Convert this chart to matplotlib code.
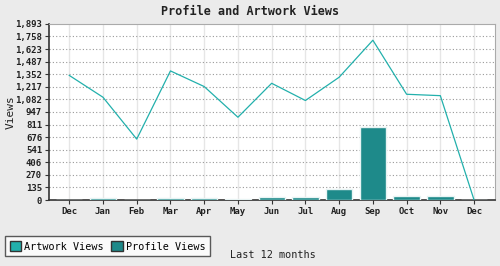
import matplotlib
matplotlib.use('Agg')
import matplotlib.pyplot as plt
from matplotlib.patches import Patch
import numpy as np

months = ['Dec', 'Jan', 'Feb', 'Mar', 'Apr', 'May', 'Jun', 'Jul', 'Aug', 'Sep', 'Oct', 'Nov', 'Dec']
artwork_views = [1340, 1105, 655, 1388, 1220, 890, 1255, 1070, 1320, 1718, 1137, 1122, 0]
profile_views = [0, 25, 0, 25, 25, 12, 36, 36, 122, 785, 46, 46, 0]
y_max = 1893
y_ticks = [int(y_max * k / 14 + 0.5) for k in range(15)]

line_col = '#22b0ac'
bar_col = '#1e8a8a'

plt.rcParams['font.family'] = ['DejaVu Sans Mono']

fig = plt.figure(figsize=(5, 2.66), dpi=100, facecolor='#ebebeb')
ax = fig.add_axes([0.098, 0.248, 0.892, 0.662])
ax.set_facecolor('white')

x = np.arange(len(months))
ax.bar(x, profile_views, width=0.78, color=bar_col, edgecolor='#e8f4f4', linewidth=1, zorder=3)
ax.plot(x, artwork_views, color=line_col, linewidth=0.9, zorder=4)

ax.set_xlim(-0.6, len(months) - 1 + 0.62)
ax.set_ylim(0, y_max)
ax.set_xticks(x)
ax.set_xticklabels(months, fontsize=6.5)
ax.set_yticks(y_ticks)
ax.set_yticklabels(['{:,}'.format(v) for v in y_ticks], fontsize=6.5)
ax.tick_params(axis='both', direction='out', length=3, width=0.8, color='#333333', pad=2)
for lab in ax.get_xticklabels() + ax.get_yticklabels():
    lab.set_fontweight('bold')
    lab.set_color('#222222')

# grid
for v in y_ticks[1:-1]:
    ax.axhline(v, color='#999999', linestyle=(0, (1, 2)), linewidth=0.8, zorder=1)
for xi in x:
    ax.axvline(xi, color='#e6e6e6', linewidth=1, zorder=0)

for s in ['top', 'right']:
    ax.spines[s].set_color('#aaaaaa')
for s in ['left', 'bottom']:
    ax.spines[s].set_color('#333333')
    ax.spines[s].set_linewidth(1.2)

fig.text(0.5, 0.955, 'Profile and Artwork Views', ha='center', va='center',
         fontsize=8.5, fontweight='bold', color='#222222')
fig.text(0.022, 0.58, 'Views', rotation=90, ha='center', va='center', fontsize=8, color='#222222')
fig.text(0.46, 0.04, 'Last 12 months', ha='left', va='center', fontsize=7.3, color='#222222')

handles = [Patch(facecolor=line_col, edgecolor='#333333', label='Artwork Views'),
           Patch(facecolor=bar_col, edgecolor='#333333', label='Profile Views')]
leg = fig.legend(handles=handles, loc='lower left', bbox_to_anchor=(0.01, 0.037), ncol=2,
                 fontsize=7.3, frameon=True, fancybox=False, handlelength=1.1, handleheight=1.2,
                 handletextpad=0.3, columnspacing=0.8, borderpad=0.45, borderaxespad=0)
leg.get_frame().set_edgecolor('#333333')
leg.get_frame().set_linewidth(1)
leg.get_frame().set_facecolor('white')

fig.savefig('out.png', dpi=100, facecolor=fig.get_facecolor())
